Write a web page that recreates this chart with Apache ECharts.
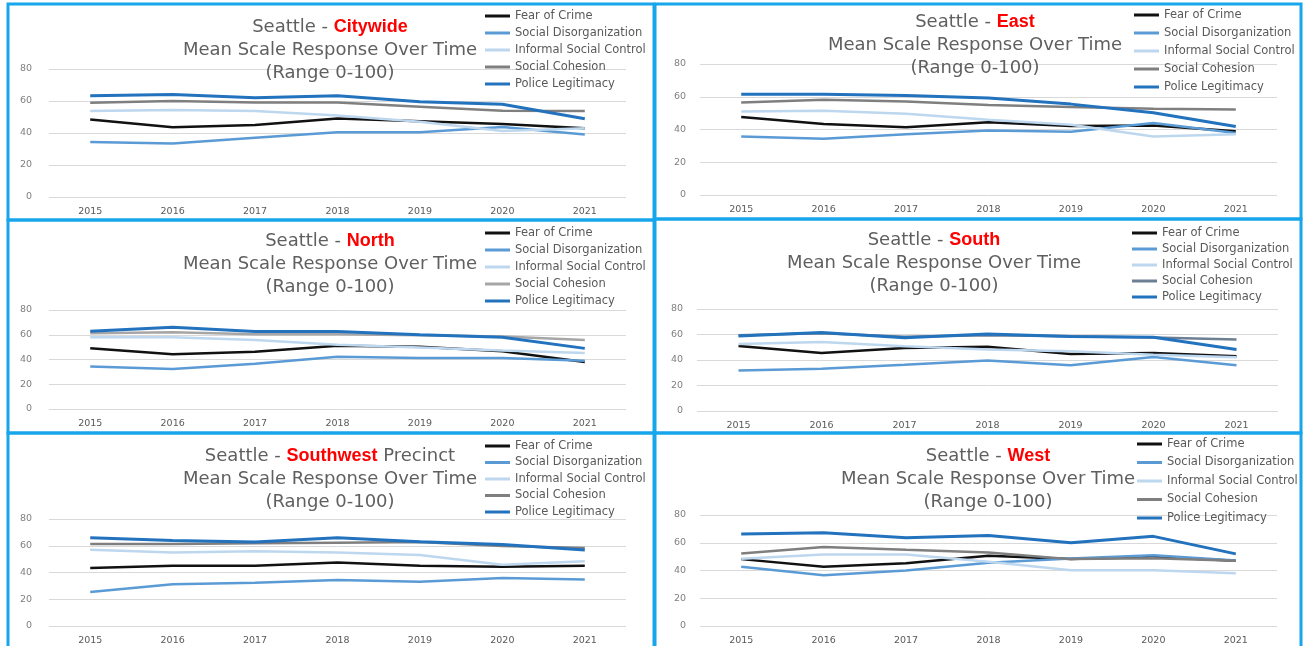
<!DOCTYPE html>
<html>
<head>
<meta charset="utf-8">
<script src="https://cdn.jsdelivr.net/npm/echarts@6/dist/echarts.min.js"></script>
<style>
  html, body { margin: 0; padding: 0; background: #fff; }
  #chart { width: 1307px; height: 646px; }
</style>
</head>
<body>
<div id="chart"></div>
<script>
const years = ['2015', '2016', '2017', '2018', '2019', '2020', '2021']
const seriesNames = ['Fear of Crime', 'Social Disorganization', 'Informal Social Control', 'Social Cohesion', 'Police Legitimacy']

// rows follow seriesNames order
const citywide = [
  [48.4, 43.6, 45.0, 49.0, 47.4, 45.7, 43.0],
  [34.4, 33.4, 37.0, 40.5, 40.5, 43.8, 39.0],
  [53.7, 54.3, 53.7, 51.0, 47.0, 41.3, 43.0],
  [58.9, 60.0, 59.0, 59.0, 56.4, 53.9, 53.7],
  [63.3, 64.0, 62.0, 63.3, 59.5, 58.0, 48.9]
]
const east = [
  [47.6, 43.3, 41.4, 44.5, 42.2, 42.4, 39.0],
  [35.7, 34.3, 37.1, 39.4, 38.6, 43.9, 37.8],
  [51.0, 51.4, 49.6, 45.9, 42.9, 35.7, 37.1],
  [56.5, 58.2, 57.1, 54.9, 53.7, 52.7, 52.2],
  [61.6, 61.6, 60.8, 59.2, 55.5, 50.2, 41.8]
]
const north = [
  [49.0, 44.2, 46.3, 51.2, 50.4, 46.6, 37.9],
  [34.4, 32.3, 36.6, 42.3, 41.2, 41.2, 39.0],
  [58.0, 58.0, 55.8, 52.0, 49.6, 47.2, 45.3],
  [61.2, 62.0, 60.4, 60.4, 59.6, 58.5, 55.8],
  [62.9, 66.1, 62.6, 62.6, 59.9, 58.0, 49.0]
]
const south = [
  [51.0, 45.5, 49.5, 50.3, 44.7, 45.5, 42.9],
  [31.8, 33.2, 36.3, 39.7, 35.8, 42.4, 35.8],
  [52.6, 54.2, 50.8, 48.2, 46.8, 44.2, 42.1],
  [59.5, 61.0, 58.2, 59.5, 58.7, 57.6, 56.0],
  [58.9, 61.6, 57.4, 60.3, 58.4, 57.9, 48.2]
]
const southwest = [
  [43.3, 45.0, 45.0, 47.5, 45.0, 44.3, 45.0],
  [25.5, 31.3, 32.3, 34.3, 33.0, 35.8, 34.8],
  [57.0, 55.0, 55.8, 55.0, 53.0, 45.8, 48.5],
  [61.3, 61.3, 61.8, 62.3, 62.8, 59.8, 58.3],
  [66.0, 64.0, 62.8, 66.0, 63.0, 61.0, 56.8]
]
const west = [
  [48.2, 42.7, 45.3, 50.6, 48.2, 49.9, 47.0],
  [42.7, 36.6, 40.0, 45.5, 48.7, 51.0, 47.2],
  [48.4, 51.6, 51.6, 46.3, 40.2, 40.2, 38.0],
  [52.3, 56.9, 54.9, 53.0, 48.2, 48.9, 47.0],
  [66.3, 67.2, 63.6, 65.3, 60.0, 64.6, 52.0]
]

const COLORS = ['#111111', '#5b9bd5', '#bdd7ee', '#7f7f7f', '#2272bd']
const WIDTHS = [2.5, 2.5, 2.5, 2.5, 3]
const BORDER = '#17a6ec'

const panels = [
  { region: 'Citywide', data: citywide, box: [8, 4, 646, 216], grid: [49, 69, 577, 128], title: [330, 16], legend: [485, 10, 5], labelMargin: 17 },
  { region: 'East', data: east, box: [655, 4, 646, 215], grid: [700, 64, 577, 131], title: [975, 11], legend: [1134, 9, 6], labelMargin: 14 },
  { region: 'North', data: north, box: [8, 220, 646, 213], grid: [49, 310, 577, 99], title: [330, 230], legend: [485, 227, 5], labelMargin: 17, cohesion: '#a6a6a6' },
  { region: 'South', data: south, box: [655, 219, 646, 214], grid: [697, 309, 581, 102], title: [934, 229], legend: [1132, 227, 4], labelMargin: 14, cohesion: '#6d7f93' },
  { region: 'Southwest', suffix: ' Precinct', data: southwest, box: [8, 433, 646, 220], grid: [49, 519, 577, 107], title: [330, 445], legend: [485, 440, 4.5], labelMargin: 17 },
  { region: 'West', data: west, box: [655, 433, 646, 220], grid: [700, 515, 577, 111], title: [988, 445], legend: [1137, 438, 6.5], labelMargin: 14 }
]

const chart = echarts.init(document.getElementById('chart'))

const titleRich = {
  a: { fontFamily: 'DejaVu Sans', fontSize: 18, fontWeight: 'normal', color: '#5f5f5f', lineHeight: 23 },
  r: { fontFamily: 'Liberation Sans', fontSize: 18, fontWeight: 'bold', color: '#ff0000', lineHeight: 23 }
}

const option = {
  animation: false,
  backgroundColor: '#fff',
  title: [],
  legend: [],
  grid: [],
  xAxis: [],
  yAxis: [],
  series: [],
  graphic: []
}

panels.forEach((p, i) => {
  const colors = COLORS.slice()
  if (p.cohesion) colors[3] = p.cohesion

  option.graphic.push({
    type: 'rect',
    shape: { x: p.box[0], y: p.box[1], width: p.box[2], height: p.box[3] },
    style: { fill: 'none', stroke: BORDER, lineWidth: 3 },
    z: 100
  })

  option.title.push({
    text: '{a|Seattle - }{r|' + p.region + '}' + (p.suffix ? '{a|' + p.suffix + '}' : '') +
      '\n{a|Mean Scale Response Over Time}\n{a|(Range 0-100)}',
    left: p.title[0],
    top: p.title[1],
    padding: 0,
    textAlign: 'center',
    textStyle: { fontWeight: 'normal', rich: titleRich }
  })

  option.legend.push({
    orient: 'vertical',
    left: p.legend[0],
    top: p.legend[1],
    itemGap: p.legend[2],
    padding: 0,
    itemWidth: 25,
    itemHeight: 3,
    icon: 'rect',
    data: seriesNames.map((n, k) => ({ name: n, itemStyle: { color: colors[k] } })),
    textStyle: { fontFamily: 'DejaVu Sans', fontSize: 11.5, color: '#595959', lineHeight: 12 },
    selectedMode: false
  })

  option.grid.push({ left: p.grid[0], top: p.grid[1], width: p.grid[2], height: p.grid[3] })

  option.xAxis.push({
    type: 'category',
    gridIndex: i,
    data: years,
    boundaryGap: true,
    axisLine: { show: false },
    axisTick: { show: false },
    axisLabel: { fontFamily: 'DejaVu Sans', fontSize: 9.5, color: '#595959', margin: 10 }
  })

  option.yAxis.push({
    type: 'value',
    gridIndex: i,
    min: 0,
    max: 80,
    interval: 20,
    axisLine: { show: false },
    axisTick: { show: false },
    axisLabel: { fontFamily: 'DejaVu Sans', fontSize: 9.5, color: '#7f7f7f', margin: p.labelMargin },
    splitLine: { lineStyle: { color: '#d9d9d9', width: 1 } }
  })

  seriesNames.forEach((n, k) => {
    option.series.push({
      name: n,
      type: 'line',
      xAxisIndex: i,
      yAxisIndex: i,
      data: p.data[k],
      symbol: 'none',
      lineStyle: { color: colors[k], width: WIDTHS[k] },
      itemStyle: { color: colors[k] }
    })
  })
})

chart.setOption(option)
</script>
</body>
</html>
